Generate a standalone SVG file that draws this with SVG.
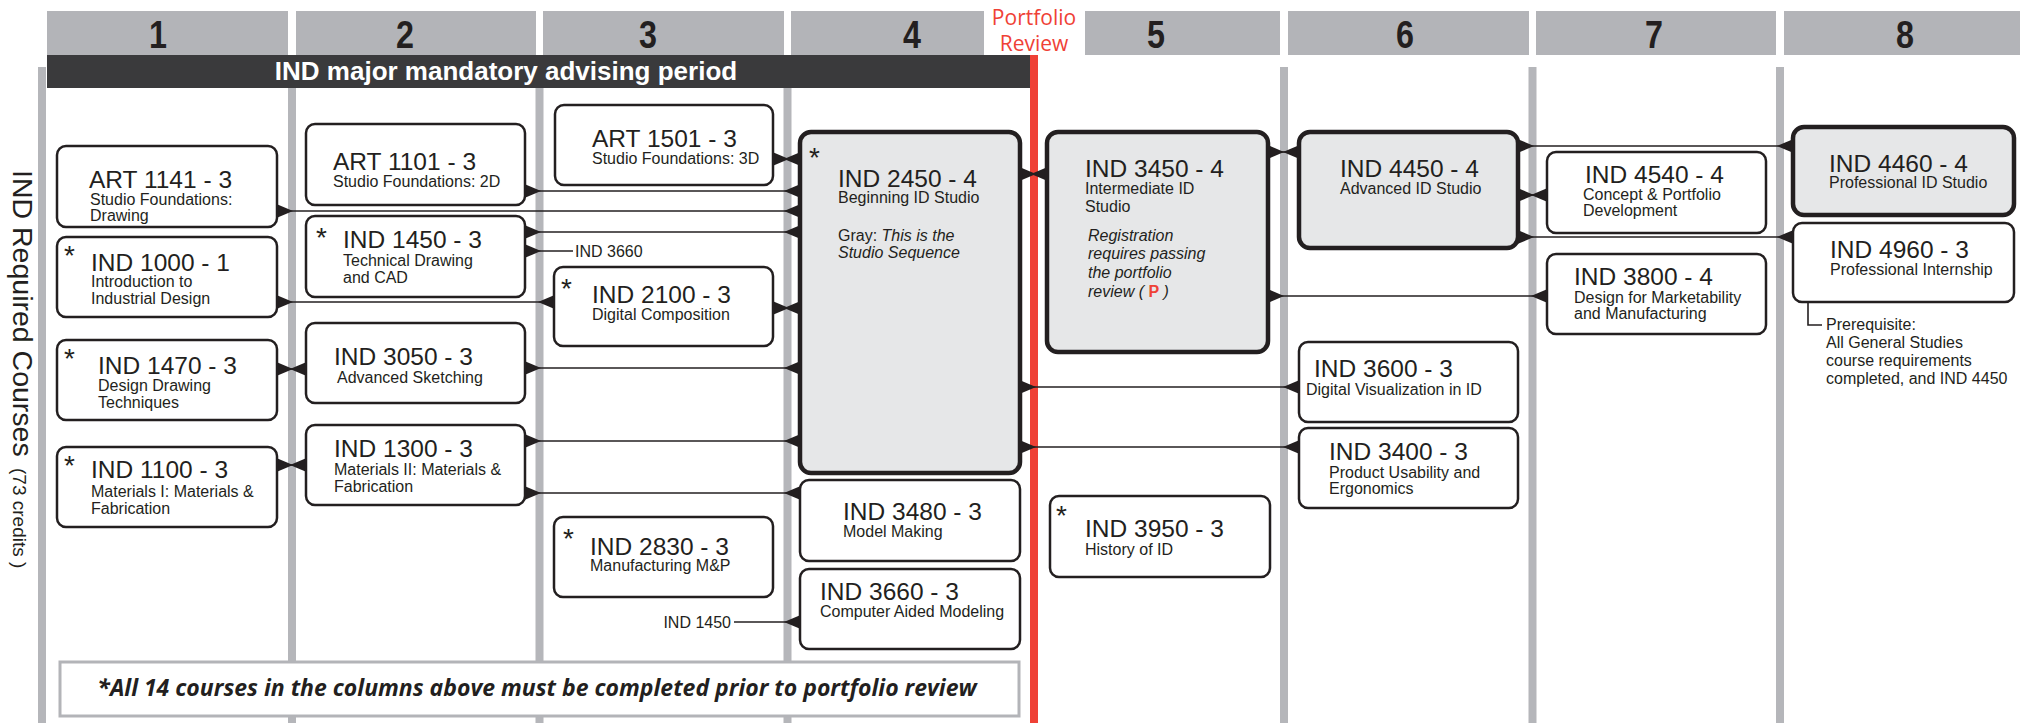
<svg xmlns="http://www.w3.org/2000/svg" width="2020" height="723" viewBox="0 0 2020 723">
<style>
text{font-family:"Liberation Sans",Arial,Helvetica,sans-serif;fill:#231f20}
.hd{fill:#b3b4b8}
.hn{font-size:38px;font-weight:bold;text-anchor:middle}
.vl{stroke:#b5b6ba;stroke-width:8}
.box{fill:#fff;stroke:#231f20;stroke-width:2.5}
.gbox{fill:#e6e7e8;stroke:#231f20;stroke-width:4.5}
.t{font-size:24.5px}
.s{font-size:16px}
.it{font-style:italic}
.ast{font-size:28px}
.c{stroke:#231f20;stroke-width:1.6;fill:none}
.lbl{font-size:16px}
</style>
<defs>
<marker id="ms" markerUnits="userSpaceOnUse" markerWidth="16" markerHeight="14" viewBox="0 0 14 12" refX="0" refY="6" orient="auto"><path d="M0,0 L14,6 L0,12 z" fill="#231f20"/></marker>
<marker id="me" markerUnits="userSpaceOnUse" markerWidth="16" markerHeight="14" viewBox="0 0 14 12" refX="14" refY="6" orient="auto"><path d="M14,0 L0,6 L14,12 z" fill="#231f20"/></marker>
</defs>
<rect width="2020" height="723" fill="#fff"/>

<g id="headers">
<rect class="hd" x="47" y="11" width="241" height="44"/>
<rect class="hd" x="296" y="11" width="240" height="44"/>
<rect class="hd" x="543" y="11" width="241" height="44"/>
<rect class="hd" x="791" y="11" width="193" height="44"/>
<rect class="hd" x="1085" y="11" width="195" height="44"/>
<rect class="hd" x="1288" y="11" width="241" height="44"/>
<rect class="hd" x="1536" y="11" width="240" height="44"/>
<rect class="hd" x="1784" y="11" width="240" height="44"/>
<text class="hn" transform="translate(158,48) scale(0.85,1)">1</text>
<text class="hn" transform="translate(405,48) scale(0.85,1)">2</text>
<text class="hn" transform="translate(648,48) scale(0.85,1)">3</text>
<text class="hn" transform="translate(912,48) scale(0.85,1)">4</text>
<text class="hn" transform="translate(1156,48) scale(0.85,1)">5</text>
<text class="hn" transform="translate(1405,48) scale(0.85,1)">6</text>
<text class="hn" transform="translate(1654,48) scale(0.85,1)">7</text>
<text class="hn" transform="translate(1905,48) scale(0.85,1)">8</text>
<text x="1034" y="25" style="font-family:'Open Sans',sans-serif;font-size:21px;fill:#ef4136;text-anchor:middle">Portfolio</text>
<text x="1034" y="51" style="font-family:'Open Sans',sans-serif;font-size:21px;fill:#ef4136;text-anchor:middle">Review</text>
</g>

<g id="gridlines">
<line class="vl" x1="42" y1="67" x2="42" y2="723"/>
<line class="vl" x1="292" y1="67" x2="292" y2="723"/>
<line class="vl" x1="539.5" y1="67" x2="539.5" y2="723"/>
<line class="vl" x1="787.5" y1="67" x2="787.5" y2="723"/>
<line class="vl" x1="1284" y1="67" x2="1284" y2="723"/>
<line class="vl" x1="1532.5" y1="67" x2="1532.5" y2="723"/>
<line class="vl" x1="1780" y1="67" x2="1780" y2="723"/>
</g>

<g id="banner">
<rect x="47" y="55" width="983" height="33" fill="#3a3a3c"/>
<text x="506" y="80" style="font-size:26px;font-weight:bold;fill:#fff;text-anchor:middle">IND major mandatory advising period</text>
</g>
<rect id="portfolio-line" x="1030" y="55" width="8" height="668" fill="#ef4136"/>

<g id="note">
<rect x="60" y="662" width="959" height="54" fill="#fff" stroke="#b3b4b8" stroke-width="3"/>
<text x="537" y="696" style="font-family:'Open Sans',sans-serif;font-size:23px;font-weight:bold;font-style:italic;text-anchor:middle">*All 14 courses in the columns above must be completed prior to portfolio review</text>
</g>

<g id="side-title">
<text transform="translate(13,170) rotate(90)" style="font-size:28.5px">IND Required Courses</text>
<text transform="translate(13,468) rotate(90)" style="font-size:19px">(73 credits )</text>
</g>

<g id="connectors">
<path class="c" d="M773,159 H800" marker-start="url(#ms)" marker-end="url(#me)"/>
<path class="c" d="M525,191 H800" marker-start="url(#ms)" marker-end="url(#me)"/>
<path class="c" d="M277,211 H800" marker-start="url(#ms)" marker-end="url(#me)"/>
<path class="c" d="M525,232 H800" marker-start="url(#ms)" marker-end="url(#me)"/>
<path class="c" d="M525,251 H573" marker-start="url(#ms)"/>
<path class="c" d="M277,302 H554" marker-start="url(#ms)" marker-end="url(#me)"/>
<path class="c" d="M773,308 H800" marker-start="url(#ms)" marker-end="url(#me)"/>
<path class="c" d="M525,368 H800" marker-start="url(#ms)" marker-end="url(#me)"/>
<path class="c" d="M277,369 H306" marker-start="url(#ms)" marker-end="url(#me)"/>
<path class="c" d="M277,465 H306" marker-start="url(#ms)" marker-end="url(#me)"/>
<path class="c" d="M525,441 H800" marker-start="url(#ms)" marker-end="url(#me)"/>
<path class="c" d="M525,493 H800" marker-start="url(#ms)" marker-end="url(#me)"/>
<path class="c" d="M734,622 H800" marker-end="url(#me)"/>
<path class="c" d="M1020,174 H1047" marker-start="url(#ms)" marker-end="url(#me)"/>
<path class="c" d="M1268,152 H1299" marker-start="url(#ms)" marker-end="url(#me)"/>
<path class="c" d="M1518,146 H1793" marker-start="url(#ms)" marker-end="url(#me)"/>
<path class="c" d="M1518,195 H1547" marker-start="url(#ms)" marker-end="url(#me)"/>
<path class="c" d="M1518,237 H1793" marker-start="url(#ms)" marker-end="url(#me)"/>
<path class="c" d="M1268,296 H1547" marker-start="url(#ms)" marker-end="url(#me)"/>
<path class="c" d="M1020,387 H1299" marker-start="url(#ms)" marker-end="url(#me)"/>
<path class="c" d="M1020,447 H1299" marker-start="url(#ms)" marker-end="url(#me)"/>
<path class="c" d="M1808,302 V325 H1822"/>
<text class="lbl" x="575" y="257">IND 3660</text>
<text class="lbl" x="731" y="628" text-anchor="end">IND 1450</text>
</g>

<g id="ART1141"><rect class="box" x="57" y="146" width="220" height="81" rx="9"/>
<text class="t" x="89" y="188">ART 1141 - 3</text><text class="s" x="90" y="205">Studio Foundations:</text><text class="s" x="90" y="221">Drawing</text></g>
<g id="IND1000"><rect class="box" x="57" y="237" width="220" height="80" rx="9"/>
<text class="ast" x="64" y="265">*</text><text class="t" x="91" y="271">IND 1000 - 1</text><text class="s" x="91" y="287">Introduction to</text><text class="s" x="91" y="304">Industrial Design</text></g>
<g id="IND1470"><rect class="box" x="57" y="340" width="220" height="80" rx="9"/>
<text class="ast" x="64" y="368">*</text><text class="t" x="98" y="374">IND 1470 - 3</text><text class="s" x="98" y="391">Design Drawing</text><text class="s" x="98" y="408">Techniques</text></g>
<g id="IND1100"><rect class="box" x="57" y="447" width="220" height="80" rx="9"/>
<text class="ast" x="64" y="475">*</text><text class="t" x="91" y="478">IND 1100 - 3</text><text class="s" x="91" y="497">Materials I: Materials &amp;</text><text class="s" x="91" y="514">Fabrication</text></g>

<g id="ART1101"><rect class="box" x="306" y="124" width="219" height="81" rx="9"/>
<text class="t" x="333" y="170">ART 1101 - 3</text><text class="s" x="333" y="187">Studio Foundations: 2D</text></g>
<g id="IND1450"><rect class="box" x="306" y="216" width="219" height="81" rx="9"/>
<text class="ast" x="316" y="247">*</text><text class="t" x="343" y="248">IND 1450 - 3</text><text class="s" x="343" y="266">Technical Drawing</text><text class="s" x="343" y="283">and CAD</text></g>
<g id="IND3050"><rect class="box" x="306" y="323" width="219" height="80" rx="9"/>
<text class="t" x="334" y="365">IND 3050 - 3</text><text class="s" x="337" y="383">Advanced Sketching</text></g>
<g id="IND1300"><rect class="box" x="306" y="425" width="219" height="80" rx="9"/>
<text class="t" x="334" y="457">IND 1300 - 3</text><text class="s" x="334" y="475">Materials II: Materials &amp;</text><text class="s" x="334" y="492">Fabrication</text></g>

<g id="ART1501"><rect class="box" x="555" y="105" width="218" height="80" rx="9"/>
<text class="t" x="592" y="147">ART 1501 - 3</text><text class="s" x="592" y="164">Studio Foundations: 3D</text></g>
<g id="IND2100"><rect class="box" x="554" y="267" width="219" height="79" rx="9"/>
<text class="ast" x="561" y="298">*</text><text class="t" x="592" y="303">IND 2100 - 3</text><text class="s" x="592" y="320">Digital Composition</text></g>
<g id="IND2830"><rect class="box" x="554" y="517" width="219" height="80" rx="9"/>
<text class="ast" x="563" y="548">*</text><text class="t" x="590" y="555">IND 2830 - 3</text><text class="s" x="590" y="571">Manufacturing M&amp;P</text></g>

<g id="IND2450"><rect class="gbox" x="800" y="132" width="220" height="341" rx="11"/>
<text class="ast" x="809" y="167">*</text><text class="t" x="838" y="187">IND 2450 - 4</text><text class="s" x="838" y="203">Beginning ID Studio</text>
<text class="s" x="838" y="241">Gray: <tspan class="it">This is the</tspan></text><text class="s it" x="838" y="258">Studio Sequence</text></g>
<g id="IND3480"><rect class="box" x="800" y="480" width="220" height="81" rx="9"/>
<text class="t" x="843" y="520">IND 3480 - 3</text><text class="s" x="843" y="537">Model Making</text></g>
<g id="IND3660"><rect class="box" x="800" y="569" width="220" height="80" rx="9"/>
<text class="t" x="820" y="600">IND 3660 - 3</text><text class="s" x="820" y="617">Computer Aided Modeling</text></g>

<g id="IND3450"><rect class="gbox" x="1047" y="132" width="221" height="220" rx="11"/>
<text class="t" x="1085" y="177">IND 3450 - 4</text><text class="s" x="1085" y="194">Intermediate ID</text><text class="s" x="1085" y="212">Studio</text>
<text class="s it" x="1088" y="241">Registration</text><text class="s it" x="1088" y="259">requires passing</text><text class="s it" x="1088" y="278">the portfolio</text>
<text class="s it" x="1088" y="297">review ( <tspan style="font-style:normal;font-weight:bold;fill:#ef4136">P</tspan> )</text></g>
<g id="IND3950"><rect class="box" x="1050" y="496" width="220" height="81" rx="9"/>
<text class="ast" x="1056" y="525">*</text><text class="t" x="1085" y="537">IND 3950 - 3</text><text class="s" x="1085" y="555">History of ID</text></g>

<g id="IND4450"><rect class="gbox" x="1299" y="132" width="219" height="116" rx="11"/>
<text class="t" x="1340" y="177">IND 4450 - 4</text><text class="s" x="1340" y="194">Advanced ID Studio</text></g>
<g id="IND3600"><rect class="box" x="1299" y="342" width="219" height="80" rx="9"/>
<text class="t" x="1314" y="377">IND 3600 - 3</text><text class="s" x="1306" y="395">Digital Visualization in ID</text></g>
<g id="IND3400"><rect class="box" x="1299" y="428" width="219" height="80" rx="9"/>
<text class="t" x="1329" y="460">IND 3400 - 3</text><text class="s" x="1329" y="478">Product Usability and</text><text class="s" x="1329" y="494">Ergonomics</text></g>

<g id="IND4540"><rect class="box" x="1547" y="152" width="219" height="81" rx="9"/>
<text class="t" x="1585" y="183">IND 4540 - 4</text><text class="s" x="1583" y="200">Concept &amp; Portfolio</text><text class="s" x="1583" y="216">Development</text></g>
<g id="IND3800"><rect class="box" x="1547" y="254" width="219" height="80" rx="9"/>
<text class="t" x="1574" y="285">IND 3800 - 4</text><text class="s" x="1574" y="303">Design for Marketability</text><text class="s" x="1574" y="319">and Manufacturing</text></g>

<g id="IND4460"><rect class="gbox" x="1793" y="127" width="221" height="88" rx="11"/>
<text class="t" x="1829" y="172">IND 4460 - 4</text><text class="s" x="1829" y="188">Professional ID Studio</text></g>
<g id="IND4960"><rect class="box" x="1793" y="223" width="221" height="79" rx="9"/>
<text class="t" x="1830" y="258">IND 4960 - 3</text><text class="s" x="1830" y="275">Professional Internship</text></g>
<g id="prereq">
<text class="s" x="1826" y="330">Prerequisite:</text>
<text class="s" x="1826" y="348">All General Studies</text>
<text class="s" x="1826" y="366">course requirements</text>
<text class="s" x="1826" y="384">completed, and IND 4450</text>
</g>
</svg>
